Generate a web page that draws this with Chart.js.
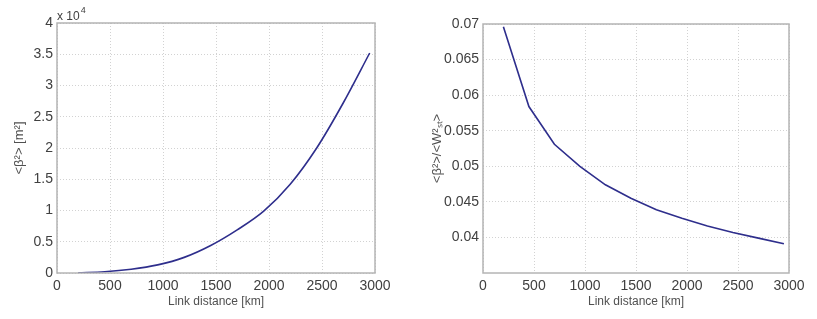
<!DOCTYPE html>
<html>
<head>
<meta charset="utf-8">
<script src="https://cdn.jsdelivr.net/npm/chart.js@4/dist/chart.umd.min.js"></script>
<style>
  body { margin: 0; background: #fff; }
  #wrap { position: relative; width: 817px; height: 319px; background: #fff; }
  #left { position: absolute; left: 0; top: 0; }
  #right { position: absolute; left: 410px; top: 0; }
</style>
</head>
<body>
<div id="wrap">
  <canvas id="left" width="400" height="319"></canvas>
  <canvas id="right" width="407" height="319"></canvas>
</div>
<script>
// link distance [km], shared by both panels
var distance = [200, 450, 700, 950, 1200, 1450, 1700, 1950, 2200, 2450, 2700, 2950];
// <beta^2> [m^2]
var betaSq = [30, 200, 600, 1300, 2500, 4400, 6900, 9900, 14200, 20000, 27200, 35200];
// <beta^2>/<W_st^2>
var ratio = [0.0696, 0.0584, 0.0531, 0.0500, 0.0474, 0.0455, 0.0439, 0.0427, 0.0416, 0.0407, 0.0399, 0.0391];

var xTicks = [0, 500, 1000, 1500, 2000, 2500, 3000];
var leftTicks = [0, 0.5, 1, 1.5, 2, 2.5, 3, 3.5, 4];          // x 10^4
var rightTicks = [0.04, 0.045, 0.05, 0.055, 0.06, 0.065, 0.07];

var FONT = "'Liberation Sans', Arial, Helvetica, sans-serif";
var lineColor = '#2e2e8c';
var gridColor = '#d2d2d2';
var frameColor = '#b4b4b4';
var textColor = '#404040';

// box around the plot area + optional exponent label
var framePlugin = {
	id: 'frame',
	afterDraw: function(chart, args, opts) {
		var a = chart.chartArea, ctx = chart.ctx;
		ctx.save();
		ctx.strokeStyle = frameColor;
		ctx.lineWidth = 1.5;
		ctx.strokeRect(a.left, a.top, a.right - a.left, a.bottom - a.top);
		if (opts.exponent) {
			ctx.fillStyle = textColor;
			ctx.textBaseline = 'alphabetic';
			ctx.font = '12px ' + FONT;
			ctx.fillText('x 10', a.left, a.top - 3);
			var w = ctx.measureText('x 10').width;
			ctx.font = '9px ' + FONT;
			ctx.fillText(opts.exponent, a.left + w + 1, a.top - 10);
		}
		ctx.restore();
	}
};

function makeChart(id, ys, yOpts, axisW, pad, exponent, smooth) {
	var pts = distance.map(function(d, i) { return { x: d, y: ys[i] }; });
	var ctx = document.getElementById(id).getContext('2d');
	return new Chart(ctx, {
		type: 'line',
		data: {
			datasets: [{
				data: pts,
				borderColor: lineColor,
				borderWidth: 1.6,
				pointRadius: 0,
				cubicInterpolationMode: smooth ? 'monotone' : 'default',
				tension: 0,
				fill: false
			}]
		},
		plugins: [framePlugin],
		options: {
			responsive: false,
			animation: false,
			devicePixelRatio: 1,
			layout: { padding: pad },
			plugins: {
				legend: { display: false },
				tooltip: { enabled: false },
				frame: { exponent: exponent }
			},
			scales: {
				x: {
					type: 'linear',
					min: 0,
					max: 3000,
					afterBuildTicks: function(s) { s.ticks = xTicks.map(function(v) { return { value: v }; }); },
					afterFit: function(s) { s.height = 46; },
					grid: { color: gridColor, lineWidth: 1, drawTicks: false },
					border: { display: false, dash: [1, 2] },
					ticks: { color: textColor, font: { family: FONT, size: 14 }, padding: 5, maxRotation: 0,
						callback: function(v) { return String(v); } },
					title: { display: true, text: 'Link distance [km]', color: '#505050',
						font: { family: FONT, size: 12 }, padding: { top: 0, bottom: 10 } }
				},
				y: Object.assign({
					type: 'linear',
					afterFit: function(s) { s.width = axisW; },
					grid: { color: gridColor, lineWidth: 1, drawTicks: false },
					border: { display: false, dash: [1, 2] }
				}, yOpts)
			}
		}
	});
}

makeChart('left', betaSq, {
	min: 0,
	max: 40000,
	afterBuildTicks: function(s) { s.ticks = leftTicks.map(function(v) { return { value: v * 1e4 }; }); },
	ticks: {
		color: textColor, font: { family: FONT, size: 14 }, padding: 4,
		callback: function(v) { return String(Math.round(v / 1e4 * 10) / 10); }
	},
	title: { display: true, text: '<β²> [m²]', color: '#505050',
		font: { family: FONT, size: 13 }, padding: { top: 12, bottom: 0 } }
}, 57, { top: 23, right: 25, bottom: 0, left: 0 }, '4', true);

makeChart('right', ratio, {
	min: 0.035,
	max: 0.07,
	afterBuildTicks: function(s) { s.ticks = rightTicks.map(function(v) { return { value: v }; }); },
	ticks: {
		color: textColor, font: { family: FONT, size: 14 }, padding: 4,
		callback: function(v) { return String(Math.round(v * 1000) / 1000); }
	},
	title: { display: true, text: '<β²>/<W²ₛₜ>', color: '#505050',
		font: { family: FONT, size: 13 }, padding: { top: 20, bottom: 0 } }
}, 73, { top: 24, right: 28, bottom: 0, left: 0 }, null, false);
</script>
</body>
</html>
